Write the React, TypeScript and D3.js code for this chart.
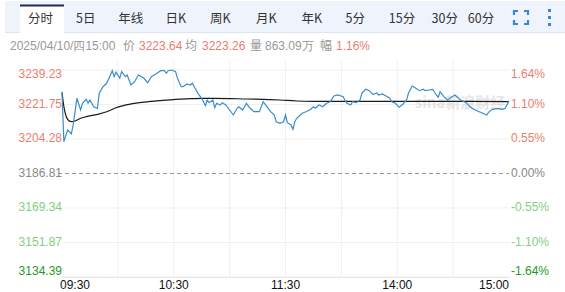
import React from "react";
import * as d3 from "d3";

// ---- data ----
const tabLabels = ["分时", "5日", "年线", "日K", "周K", "月K", "年K", "5分", "15分", "30分", "60分"];
const leftTicks = [3239.23, 3221.75, 3204.28, 3186.81, 3169.34, 3151.87, 3134.39];
const rightTicks = ["1.64%", "1.10%", "0.55%", "0.00%", "-0.55%", "-1.10%", "-1.64%"];
const timeLabels = ["09:30", "10:30", "11:30", "14:00", "15:00"];
const timeLabelMinutes = [0, 60, 120, 180, 240];
const gridMinutes = [30, 60, 90, 120, 150, 180, 210];
const prevClose = 3186.81;

// price series: minute index (0..240) and price
const priceMinutes = [0, 1, 3, 4, 5, 6, 8, 10, 11, 13, 14, 15, 17, 19, 20, 22, 24, 26, 27, 28, 29, 31, 32, 34, 35, 37, 39, 41, 44, 46, 48, 51, 53, 55, 56, 57, 59, 61, 62, 64, 65, 67, 69, 70, 71, 73, 75, 77, 78, 79, 81, 82, 83, 85, 86, 88, 90, 92, 94, 95, 97, 99, 101, 103, 106, 108, 110, 112, 114, 115, 117, 119, 120, 121, 123, 124, 125, 126, 128, 129, 131, 133, 135, 136, 138, 140, 142, 144, 146, 148, 151, 152, 153, 155, 156, 158, 160, 161, 163, 165, 167, 169, 170, 172, 174, 176, 177, 179, 181, 183, 185, 186, 188, 190, 192, 194, 195, 197, 199, 201, 202, 203, 205, 207, 209, 211, 212, 214, 217, 219, 221, 224, 226, 228, 229, 231, 234, 236, 238, 240];
const prices = [3227.94, 3202.92, 3208.84, 3207.98, 3206.82, 3211.37, 3224.90, 3218.97, 3222.37, 3224.39, 3222.37, 3224.04, 3220.64, 3219.83, 3227.43, 3230.77, 3232.50, 3236.70, 3238.88, 3235.84, 3238.22, 3235.03, 3238.37, 3235.84, 3236.70, 3231.63, 3233.31, 3236.70, 3235.03, 3232.80, 3235.84, 3237.56, 3238.88, 3238.88, 3237.56, 3238.88, 3239.23, 3238.37, 3235.03, 3230.77, 3230.77, 3232.14, 3231.63, 3232.50, 3230.77, 3227.43, 3224.90, 3221.15, 3224.04, 3222.67, 3224.04, 3220.14, 3222.37, 3221.50, 3222.67, 3221.50, 3218.97, 3216.44, 3219.83, 3220.64, 3218.97, 3222.37, 3219.83, 3218.11, 3218.11, 3223.18, 3220.64, 3218.11, 3216.44, 3213.05, 3212.24, 3213.05, 3216.44, 3212.54, 3211.37, 3209.20, 3213.05, 3214.77, 3216.44, 3217.30, 3218.11, 3218.97, 3220.64, 3219.83, 3221.50, 3220.64, 3222.37, 3223.18, 3226.06, 3226.57, 3225.71, 3223.68, 3222.37, 3221.50, 3223.18, 3222.67, 3224.04, 3227.43, 3229.46, 3228.75, 3226.80, 3227.58, 3226.57, 3227.08, 3226.06, 3224.90, 3223.18, 3222.37, 3220.34, 3221.86, 3224.04, 3227.43, 3231.13, 3229.96, 3228.75, 3229.46, 3228.75, 3229.10, 3229.46, 3226.57, 3225.40, 3228.24, 3225.71, 3224.04, 3225.40, 3226.57, 3225.71, 3224.04, 3222.67, 3220.64, 3219.33, 3218.11, 3217.30, 3216.44, 3217.81, 3219.33, 3219.83, 3219.33, 3219.83, 3223.64];

// average price series
const avgMinutes = [0, 1, 2, 3, 5, 7, 10, 13, 19, 24, 29, 36, 43, 52, 61, 69, 75, 81, 99, 117, 126, 135, 153, 170, 200, 240];
const avgPrices = [3227.94, 3220.64, 3216.44, 3214.26, 3213.05, 3213.40, 3214.77, 3215.58, 3216.79, 3218.11, 3220.14, 3221.86, 3222.87, 3223.68, 3224.39, 3224.70, 3224.90, 3224.90, 3224.54, 3224.04, 3223.53, 3223.38, 3223.38, 3223.38, 3223.33, 3223.26];

// ---- colors ----
const RED = "#e8806f";
const GRAY = "#888";
const LGREEN = "#7fcf7f";
const DGREEN = "#1e9a1e";
const tickColor = (i: number) => (i < 3 ? RED : i === 3 ? GRAY : i === 6 ? DGREEN : LGREEN);

const tabCenters = [40.5, 85.8, 130.7, 175.7, 220.3, 266.2, 311.7, 355.2, 402, 444.8, 481];

export default function App() {
  const left = 62;
  const right = 509;
  const top = 70;
  const bottom = 277;
  const x = d3.scaleLinear().domain([0, 240]).range([left, right]);
  const y = d3.scaleLinear().domain([leftTicks[6], leftTicks[0]]).range([bottom, top]);

  const priceData = priceMinutes.map((m, i) => [m, prices[i]] as [number, number]);
  const avgData = avgMinutes.map((m, i) => [m, avgPrices[i]] as [number, number]);
  const priceLine = d3.line<[number, number]>().x((d) => x(d[0])).y((d) => y(d[1]));
  const avgLine = d3
    .line<[number, number]>()
    .x((d) => x(d[0]))
    .y((d) => y(d[1]))
    .curve(d3.curveMonotoneX);

  const font = "'Liberation Sans', Arial, sans-serif";
  const cjk = "'Noto Sans CJK SC', 'Liberation Sans', sans-serif";

  return (
    <div style={{ position: "fixed", left: 0, top: 0 }}>
      <svg width={565} height={292} style={{ display: "block", background: "#fff" }}>
        {/* tab bar */}
        <rect x={5} y={1} width={560} height={31} fill="#eef3fc" />
        <line x1={5} x2={565} y1={32.5} y2={32.5} stroke="#dbe4f2" />
        <rect x={20} y={5} width={44} height={29} fill="#fff" />
        <rect x={20} y={4.5} width={44} height={2} fill="#1d2b4f" />
        {tabLabels.map((t, i) => (
          <text
            key={t}
            x={tabCenters[i]}
            y={20}
            textAnchor="middle"
            dominantBaseline="middle"
            fontFamily={cjk}
            fontSize={12.5}
            fill="#333"
          >
            {t}
          </text>
        ))}
        {/* fullscreen icon */}
        <g stroke="#3b86d8" strokeWidth={2.2} fill="none">
          <path d="M514,15 V11 H518" />
          <path d="M524,11 H528 V15" />
          <path d="M528,20 V24 H524" />
          <path d="M518,24 H514 V20" />
        </g>
        <g fill="#3b86d8">
          <rect x={548} y={9} width={3} height={3} />
          <rect x={548} y={16} width={3} height={3} />
          <rect x={548} y={23} width={3} height={3} />
        </g>

        {/* info line */}
        <g fontFamily={font} fontSize={12} dominantBaseline="middle">
          <text x={10} y={47} fill="#999">2025/04/10/四15:00</text>
          <text x={123} y={47} fill="#999" fontFamily={cjk}>价</text>
          <text x={139} y={47} fill={RED}>3223.64</text>
          <text x={185} y={47} fill="#999" fontFamily={cjk}>均</text>
          <text x={202} y={47} fill={RED}>3223.26</text>
          <text x={250} y={47} fill="#999" fontFamily={cjk}>量</text>
          <text x={265} y={47} fill="#999">863.09万</text>
          <text x={320} y={47} fill="#999" fontFamily={cjk}>幅</text>
          <text x={336} y={47} fill={RED}>1.16%</text>
        </g>

        {/* grid */}
        {leftTicks.map((v, i) =>
          i === 3 ? null : (
            <line key={"h" + i} x1={left} x2={right} y1={y(v)} y2={y(v)} stroke="#f0f0f0" />
          )
        )}
        {gridMinutes.map((m) => (
          <line key={"v" + m} x1={x(m)} x2={x(m)} y1={60} y2={bottom} stroke="#f0f0f0" />
        ))}
        <line x1={left} x2={right} y1={bottom + 0.5} y2={bottom + 0.5} stroke="#e6e6e6" />
        <line
          x1={left - 4}
          x2={right}
          y1={y(prevClose)}
          y2={y(prevClose)}
          stroke="#999"
          strokeDasharray="4,3"
        />

        {/* watermark */}
        <text
          x={460}
          y={104}
          textAnchor="middle"
          dominantBaseline="middle"
          fontFamily={cjk}
          fontSize={15}
          fontWeight="bold"
          fill="#c8c8c8"
          opacity={0.45}
        >
          sina新浪财经
        </text>

        {/* lines */}
        <path d={avgLine(avgData) || ""} fill="none" stroke="#1a1a1a" strokeWidth={1.2} />
        <path d={priceLine(priceData) || ""} fill="none" stroke="#3a8dcc" strokeWidth={1.2} />

        {/* y labels */}
        <g fontFamily={font} fontSize={12}>
          {leftTicks.map((v, i) => {
            const yy = y(v) + (i === 0 ? 5 : i === 6 ? -5 : 0);
            return (
              <g key={"l" + i}>
                <text x={left} y={yy} textAnchor="end" dominantBaseline="middle" fill={tickColor(i)}>
                  {v.toFixed(2)}
                </text>
                <text x={right + 2} y={yy} textAnchor="start" dominantBaseline="middle" fill={tickColor(i)}>
                  {rightTicks[i]}
                </text>
              </g>
            );
          })}
        </g>

        {/* time labels */}
        <g fontFamily={font} fontSize={12} fill="#111">
          {timeLabels.map((t, i) => {
            const m = timeLabelMinutes[i];
            const anchor = i === 0 ? "start" : i === timeLabels.length - 1 ? "end" : "middle";
            return (
              <text key={t} x={x(m) + (i === 0 ? -2 : 0)} y={286} textAnchor={anchor} dominantBaseline="middle">
                {t}
              </text>
            );
          })}
        </g>
      </svg>
    </div>
  );
}
